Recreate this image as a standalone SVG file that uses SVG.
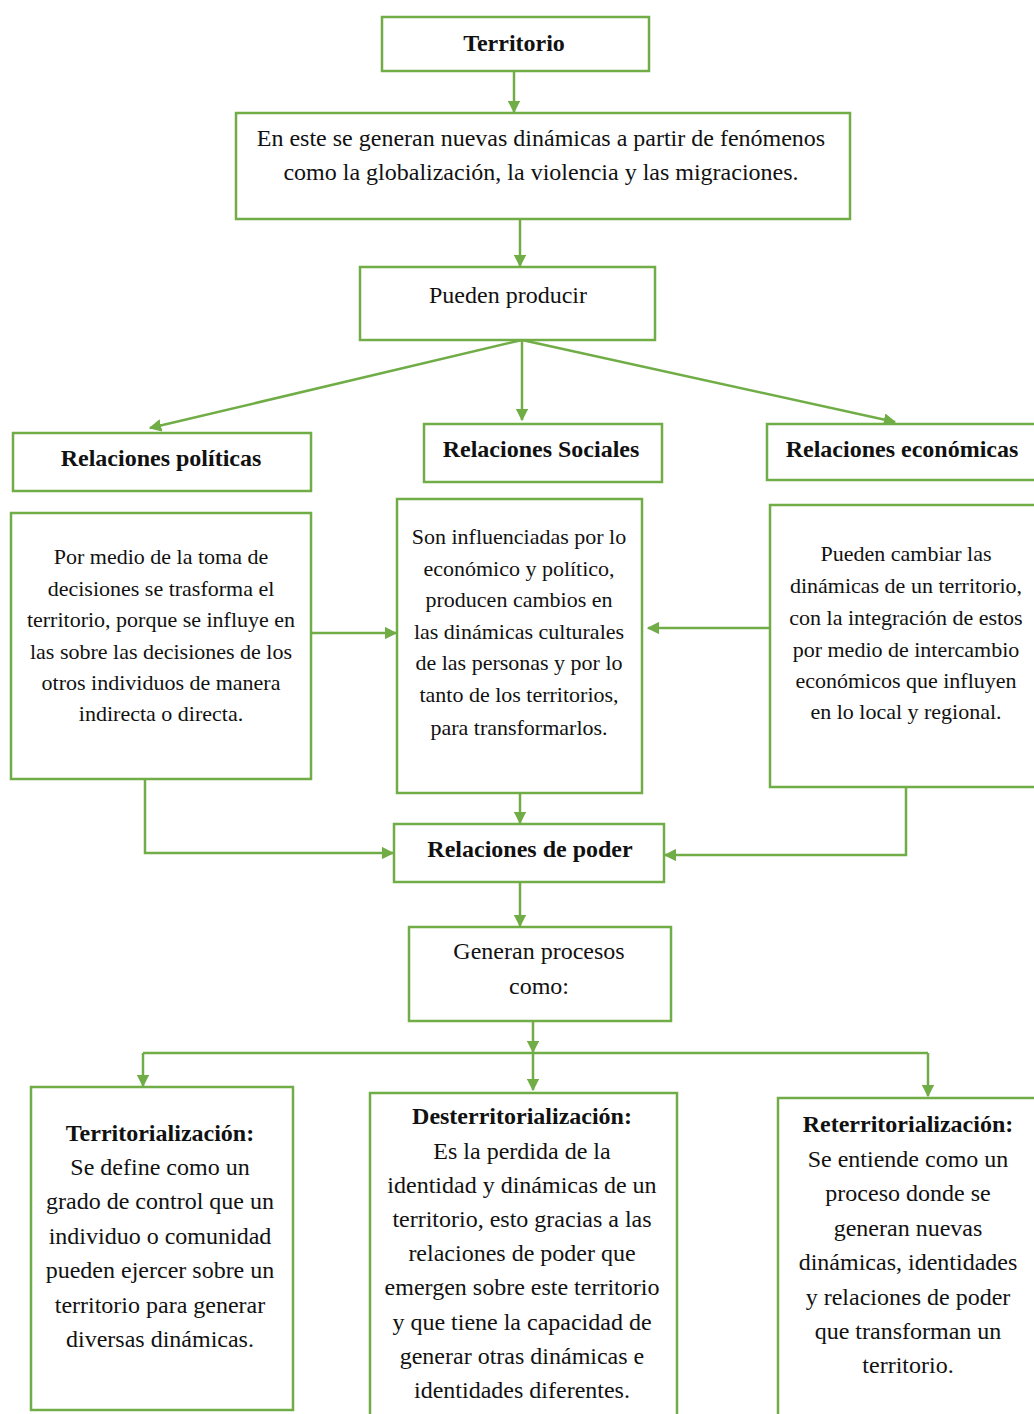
<svg xmlns="http://www.w3.org/2000/svg" width="1034" height="1414" viewBox="0 0 1034 1414">
<style>
.box{fill:#fff;stroke:#70AD47;stroke-width:2.5}
.c{fill:none;stroke:#70AD47;stroke-width:2.5}
text{font-family:"Liberation Serif","Times New Roman",serif;font-size:24px;fill:#111;text-anchor:middle}
.b{font-weight:bold}
.s{font-size:22px}
</style>
<defs>
<marker id="a" viewBox="0 0 10 10" refX="9" refY="5" markerWidth="5" markerHeight="5" orient="auto" markerUnits="strokeWidth">
<path d="M0,0 L10,5 L0,10 z" fill="#70AD47"/>
</marker>
</defs>
<rect width="1034" height="1414" fill="#fff"/>
<g id="connectors">
<line class="c" x1="514" y1="71" x2="514" y2="112" marker-end="url(#a)"/>
<line class="c" x1="520" y1="219" x2="520" y2="266" marker-end="url(#a)"/>
<line class="c" x1="522" y1="340" x2="150" y2="428" marker-end="url(#a)"/>
<line class="c" x1="522" y1="340" x2="522" y2="420" marker-end="url(#a)"/>
<line class="c" x1="522" y1="340" x2="895" y2="422" marker-end="url(#a)"/>
<line class="c" x1="311" y1="633" x2="396" y2="633" marker-end="url(#a)"/>
<line class="c" x1="770" y1="628" x2="648" y2="628" marker-end="url(#a)"/>
<line class="c" x1="520" y1="793" x2="520" y2="823" marker-end="url(#a)"/>
<polyline class="c" points="145,779 145,853 393,853" marker-end="url(#a)"/>
<polyline class="c" points="906,787 906,855 665,855" marker-end="url(#a)"/>
<line class="c" x1="520" y1="882" x2="520" y2="926" marker-end="url(#a)"/>
<line class="c" x1="533" y1="1021" x2="533" y2="1052" marker-end="url(#a)"/>
<line class="c" x1="143" y1="1053" x2="928" y2="1053"/>
<line class="c" x1="143" y1="1053" x2="143" y2="1086" marker-end="url(#a)"/>
<line class="c" x1="533" y1="1053" x2="533" y2="1090" marker-end="url(#a)"/>
<line class="c" x1="928" y1="1053" x2="928" y2="1096" marker-end="url(#a)"/>
</g>
<g id="territorio">
<rect class="box" x="382" y="17" width="267" height="54"/>
<text class="b" x="514" y="51">Territorio</text>
</g>
<g id="dinamicas">
<rect class="box" x="236" y="113" width="614" height="106"/>
<text x="541" y="146">En este se generan nuevas dinámicas a partir de fenómenos</text>
<text x="541" y="180">como la globalización, la violencia y las migraciones.</text>
</g>
<g id="pueden">
<rect class="box" x="360" y="267" width="295" height="73"/>
<text x="508" y="303">Pueden producir</text>
</g>
<g id="politicas">
<rect class="box" x="13" y="433" width="298" height="58"/>
<text class="b" x="161" y="466">Relaciones políticas</text>
</g>
<g id="sociales">
<rect class="box" x="424" y="424" width="238" height="58"/>
<text class="b" x="541" y="457">Relaciones Sociales</text>
</g>
<g id="economicas">
<rect class="box" x="767" y="424" width="280" height="56"/>
<text class="b" x="902" y="457">Relaciones económicas</text>
</g>
<g id="politicas-texto">
<rect class="box" x="11" y="513" width="300" height="266"/>
<text class="s" x="161" y="564">Por medio de la toma de</text>
<text class="s" x="161" y="596">decisiones se trasforma el</text>
<text class="s" x="161" y="627">territorio, porque se influye en</text>
<text class="s" x="161" y="659">las sobre las decisiones de los</text>
<text class="s" x="161" y="690">otros individuos de manera</text>
<text class="s" x="161" y="721">indirecta o directa.</text>
</g>
<g id="sociales-texto">
<rect class="box" x="397" y="499" width="245" height="294"/>
<text class="s" x="519" y="544">Son influenciadas por lo</text>
<text class="s" x="519" y="576">económico y político,</text>
<text class="s" x="519" y="607">producen cambios en</text>
<text class="s" x="519" y="639">las dinámicas culturales</text>
<text class="s" x="519" y="670">de las personas y por lo</text>
<text class="s" x="519" y="702">tanto de los territorios,</text>
<text class="s" x="519" y="735">para transformarlos.</text>
</g>
<g id="economicas-texto">
<rect class="box" x="770" y="505" width="280" height="282"/>
<text class="s" x="906" y="561">Pueden cambiar las</text>
<text class="s" x="906" y="593">dinámicas de un territorio,</text>
<text class="s" x="906" y="625">con la integración de estos</text>
<text class="s" x="906" y="657">por medio de intercambio</text>
<text class="s" x="906" y="688">económicos que influyen</text>
<text class="s" x="906" y="719">en lo local y regional.</text>
</g>
<g id="poder">
<rect class="box" x="394" y="824" width="270" height="58"/>
<text class="b" x="530" y="857">Relaciones de poder</text>
</g>
<g id="generan">
<rect class="box" x="409" y="927" width="262" height="94"/>
<text x="539" y="959">Generan procesos</text>
<text x="539" y="994">como:</text>
</g>
<g id="territorializacion">
<rect class="box" x="31" y="1087" width="262" height="323"/>
<text class="b" x="160" y="1141">Territorialización:</text>
<text x="160" y="1175">Se define como un</text>
<text x="160" y="1209">grado de control que un</text>
<text x="160" y="1244">individuo o comunidad</text>
<text x="160" y="1278">pueden ejercer sobre un</text>
<text x="160" y="1313">territorio para generar</text>
<text x="160" y="1347">diversas dinámicas.</text>
</g>
<g id="desterritorializacion">
<rect class="box" x="370" y="1093" width="307" height="330"/>
<text class="b" x="522" y="1124">Desterritorialización:</text>
<text x="522" y="1159">Es la perdida de la</text>
<text x="522" y="1193">identidad y dinámicas de un</text>
<text x="522" y="1227">territorio, esto gracias a las</text>
<text x="522" y="1261">relaciones de poder que</text>
<text x="522" y="1295">emergen sobre este territorio</text>
<text x="522" y="1330">y que tiene la capacidad de</text>
<text x="522" y="1364">generar otras dinámicas e</text>
<text x="522" y="1398">identidades diferentes.</text>
</g>
<g id="reterritorializacion">
<rect class="box" x="778" y="1098" width="280" height="330"/>
<text class="b" x="908" y="1132">Reterritorialización:</text>
<text x="908" y="1167">Se entiende como un</text>
<text x="908" y="1201">proceso donde se</text>
<text x="908" y="1236">generan nuevas</text>
<text x="908" y="1270">dinámicas, identidades</text>
<text x="908" y="1305">y relaciones de poder</text>
<text x="908" y="1339">que transforman un</text>
<text x="908" y="1373">territorio.</text>
</g>
</svg>
